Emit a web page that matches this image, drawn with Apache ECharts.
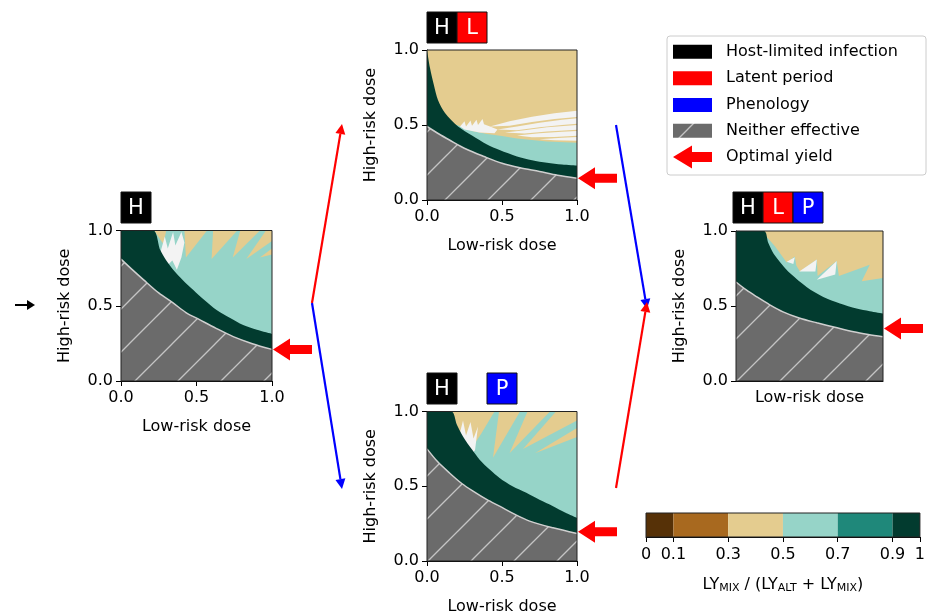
<!DOCTYPE html>
<html>
<head>
<meta charset="utf-8">
<script src="https://cdn.jsdelivr.net/npm/echarts@6/dist/echarts.min.js"></script>
<style>
  html, body { margin: 0; padding: 0; background: #fff; }
  #main { width: 928px; height: 616px; }
</style>
</head>
<body>
<div id="main"></div>
<script>
// ---- data (dose fractions, 0..1) ----
const doseTicks = [0, 0.5, 1]

// panel H
const hGray = [[0,0.81],[0.08,0.735],[0.15,0.672],[0.25,0.585],[0.347,0.517],[0.43,0.455],[0.523,0.406],[0.63,0.35],[0.743,0.295],[0.87,0.248],[1,0.21]]
const hGreen = [[0,1],[0.211,1],[0.26,0.87],[0.30,0.80],[0.347,0.738],[0.41,0.67],[0.479,0.605],[0.55,0.54],[0.633,0.472],[0.72,0.42],[0.809,0.372],[0.9,0.34],[1,0.313]]
const hTeal = [[0,1],[1,1]]
const hTan = [
  [[0.22,1],[0.30,1],[0.28,0.91]],
  [[0.42,1],[0.57,1],[0.43,0.82]],
  [[0.61,1],[0.77,1],[0.60,0.81]],
  [[0.79,1],[0.92,1],[0.74,0.82]],
  [[0.96,1],[1,1],[1,0.93],[0.83,0.81]],
  [[1,0.88],[1,0.84],[0.92,0.82]]
]
const hWhite = [
  [[0.26,0.85],[0.29,0.96],[0.31,0.88],[0.345,0.99],[0.36,0.9],[0.40,0.99],[0.42,0.92],[0.40,0.82],[0.37,0.74],[0.34,0.8],[0.31,0.77],[0.28,0.8]]
]
const hOptimal = 0.21

// panel H + L
const hlGray = [[0,0.49],[0.08,0.44],[0.15,0.40],[0.26,0.34],[0.38,0.29],[0.5,0.245],[0.62,0.215],[0.75,0.19],[0.87,0.165],[1,0.145]]
const hlGreen = [[0,1],[0.02,0.88],[0.045,0.77],[0.073,0.667],[0.12,0.58],[0.207,0.49],[0.3,0.43],[0.4,0.37],[0.484,0.333],[0.6,0.29],[0.7,0.265],[0.8,0.248],[0.9,0.236],[1,0.229]]
const hlTeal = [[0,0.5],[0.2,0.5],[0.3,0.46],[0.4,0.44],[0.5,0.427],[0.6,0.41],[0.8,0.39],[1,0.382]]
const hlTan = []
const hlWhite = [
  [[0.22,0.49],[0.25,0.525],[0.26,0.49],[0.29,0.53],[0.30,0.495],[0.33,0.535],[0.34,0.50],[0.37,0.54],[0.38,0.505],[0.42,0.49],[0.47,0.47],[0.45,0.445],[0.35,0.45],[0.25,0.47]],
  [[0.42,0.49],[0.55,0.525],[0.7,0.555],[0.85,0.578],[1,0.595],[1,0.553],[0.85,0.54],[0.7,0.52],[0.55,0.495]],
  [[0.47,0.47],[0.6,0.49],[0.75,0.515],[0.9,0.535],[1,0.545],[1,0.508],[0.9,0.5],[0.75,0.485],[0.6,0.465]],
  [[0.52,0.45],[0.65,0.465],[0.8,0.485],[1,0.5],[1,0.468],[0.8,0.456],[0.65,0.443]],
  [[0.6,0.43],[0.75,0.445],[0.9,0.455],[1,0.46],[1,0.428],[0.85,0.42],[0.7,0.418]],
  [[0.75,0.405],[0.9,0.415],[1,0.42],[1,0.395],[0.85,0.398]]
]
const hlOptimal = 0.145

// panel H + P
const hpGray = [[0,0.75],[0.07,0.665],[0.15,0.589],[0.23,0.52],[0.307,0.467],[0.4,0.41],[0.484,0.367],[0.58,0.315],[0.684,0.267],[0.84,0.222],[1,0.184]]
const hpGreen = [[0,1],[0.162,1],[0.2,0.91],[0.24,0.833],[0.3,0.745],[0.351,0.678],[0.42,0.61],[0.484,0.556],[0.57,0.5],[0.662,0.456],[0.75,0.41],[0.84,0.367],[0.92,0.325],[1,0.289]]
const hpTeal = [[0,1],[1,1]]
const hpTan = [
  [[0.17,1],[0.45,1],[0.36,0.85],[0.30,0.76],[0.26,0.72],[0.23,0.8],[0.2,0.9]],
  [[0.48,1],[0.62,1],[0.44,0.69]],
  [[0.67,1],[0.82,1],[0.55,0.72]],
  [[0.86,1],[1,1],[1,0.94],[0.64,0.75]],
  [[1,0.89],[1,0.83],[0.72,0.72]]
]
const hpWhite = [
  [[0.22,0.86],[0.24,0.94],[0.26,0.84],[0.29,0.93],[0.31,0.82],[0.34,0.9],[0.32,0.74],[0.3,0.72],[0.27,0.72],[0.24,0.76]]
]
const hpOptimal = 0.196

// panel H + L + P
const hlpGray = [[0,0.66],[0.07,0.607],[0.142,0.561],[0.23,0.508],[0.32,0.461],[0.43,0.42],[0.55,0.388],[0.68,0.356],[0.8,0.328],[0.9,0.31],[1,0.295]]
const hlpGreen = [[0,1],[0.19,1],[0.22,0.92],[0.255,0.85],[0.31,0.78],[0.37,0.716],[0.48,0.627],[0.594,0.56],[0.707,0.517],[0.82,0.483],[0.91,0.465],[1,0.45]]
const hlpTeal = [[0,1],[0.2,0.97],[0.265,0.898],[0.345,0.79],[0.40,0.83],[0.41,0.77],[0.435,0.73],[0.55,0.81],[0.555,0.70],[0.685,0.80],[0.70,0.70],[0.855,0.755],[0.91,0.775],[0.855,0.665],[1,0.687]]
const hlpTan = []
const hlpWhite = [
  [[0.345,0.795],[0.40,0.825],[0.39,0.78]],
  [[0.43,0.73],[0.55,0.81],[0.54,0.73]],
  [[0.55,0.675],[0.685,0.80],[0.675,0.71]]
]
const hlpOptimal = 0.35

// colour bar
const cbEdges = [0, 0.1, 0.3, 0.5, 0.7, 0.9, 1]
const legendLabels = ['Host-limited infection', 'Latent period', 'Phenology', 'Neither effective', 'Optimal yield']

// ---- styles ----
const FONT = 'DejaVu Sans'
const TAN = '#e4cc8f', TEAL = '#96d4c8', GREEN = '#023b2f', WHITE = '#f3f3f3'
const GRAY = '#6b6b6b', HATCH = '#c4c4c4', RED = '#ff0000', BLUE = '#0000ff'
const cbColors = ['#563107', '#a8691f', '#e4cc8f', '#96d4c8', '#1f887a', '#023b2f']

function makeHatch() {
  const s = 43
  const c = document.createElement('canvas')
  c.width = s
  c.height = s
  const g = c.getContext('2d')
  g.fillStyle = GRAY
  g.fillRect(0, 0, s, s)
  g.strokeStyle = HATCH
  g.lineWidth = 1.3
  for (const o of [-s, 0, s]) {
    g.beginPath()
    g.moveTo(o - 1, s + 1)
    g.lineTo(o + s + 1, -1)
    g.stroke()
  }
  return c
}
const hatch = { image: makeHatch(), repeat: 'repeat' }

const panels = [
  { grid: { left: 121, top: 230.5, width: 151, height: 150.5 }, gray: hGray, green: hGreen, teal: hTeal, tan: hTan, white: hWhite, opt: hOptimal, xLabels: true },
  { grid: { left: 427, top: 50, width: 150, height: 150 }, gray: hlGray, green: hlGreen, teal: hlTeal, tan: hlTan, white: hlWhite, opt: hlOptimal, xLabels: true },
  { grid: { left: 427, top: 411.5, width: 150, height: 150 }, gray: hpGray, green: hpGreen, teal: hpTeal, tan: hpTan, white: hpWhite, opt: hpOptimal, xLabels: true },
  { grid: { left: 736, top: 231, width: 147, height: 150 }, gray: hlpGray, green: hlpGreen, teal: hlpTeal, tan: hlpTan, white: hlpWhite, opt: hlpOptimal, xLabels: false }
]

const grids = panels.map(p => p.grid).concat([{ left: 646, top: 513, width: 277, height: 24 }])
const xAxes = []
const yAxes = []
const series = []

function areaLine(i, data, fill, z, smooth, line) {
  return {
    type: 'line', xAxisIndex: i, yAxisIndex: i, data: data, symbol: 'none', smooth: smooth, z: z,
    silent: true,
    lineStyle: line || { width: 0, opacity: 0 },
    areaStyle: { color: fill, opacity: 1 }
  }
}

function polys(i, list, fill, z) {
  return {
    type: 'custom', xAxisIndex: i, yAxisIndex: i, z: z, silent: true,
    data: list.map((p, k) => [p[0][0], p[0][1], k]),
    renderItem: (params, api) => ({
      type: 'polygon',
      shape: { points: list[params.dataIndex].map(pt => api.coord(pt)) },
      style: { fill: fill }
    })
  }
}

function frame(i, z, color) {
  return {
    type: 'custom', xAxisIndex: i, yAxisIndex: i, z: z, silent: true,
    data: [[0, 0]],
    renderItem: (params, api) => {
      const a = api.coord([0, 1])
      const b = api.coord([1, 0])
      return {
        type: 'rect',
        shape: { x: a[0], y: a[1], width: b[0] - a[0], height: b[1] - a[1] },
        style: { fill: 'none', stroke: color, lineWidth: 1 }
      }
    }
  }
}

panels.forEach((p, i) => {
  xAxes.push({
    gridIndex: i, type: 'value', min: 0, max: 1, interval: 0.5,
    splitLine: { show: false },
    axisLine: { show: true, lineStyle: { color: '#000' } },
    axisTick: { show: p.xLabels, length: 5, lineStyle: { color: '#000' } },
    axisLabel: { show: p.xLabels, margin: 9, fontSize: 16, color: '#000', fontFamily: FONT, formatter: v => v.toFixed(1) },
    name: 'Low-risk dose', nameLocation: 'middle', nameGap: p.xLabels ? 38 : 9,
    nameTextStyle: { fontSize: 16, color: '#000', fontFamily: FONT, verticalAlign: 'top' }
  })
  yAxes.push({
    gridIndex: i, type: 'value', min: 0, max: 1, interval: 0.5,
    splitLine: { show: false },
    axisLine: { show: true, lineStyle: { color: '#000' } },
    axisTick: { show: true, length: 5, lineStyle: { color: '#000' } },
    axisLabel: { margin: 8, fontSize: 16, color: '#000', fontFamily: FONT, formatter: v => v.toFixed(1) },
    name: 'High-risk dose', nameLocation: 'middle', nameGap: 48,
    nameTextStyle: { fontSize: 16, color: '#000', fontFamily: FONT }
  })

  series.push(areaLine(i, [[0, 1], [1, 1]], TAN, 1, false))
  series.push(areaLine(i, p.teal, TEAL, 2, false))
  series.push(polys(i, p.tan, TAN, 3))
  series.push(polys(i, p.white, WHITE, 4))
  series.push(areaLine(i, p.green, GREEN, 5, 0.3))
  series.push(areaLine(i, p.gray, hatch, 6, 0.3, { color: '#cfcfcf', width: 1.5 }))
  series.push(frame(i, 7, '#222'))
  // optimal-yield arrow pointing at the right edge
  series.push({
    type: 'custom', xAxisIndex: i, yAxisIndex: i, z: 8, silent: true,
    data: [[1, p.opt]],
    renderItem: (params, api) => {
      const c = api.coord([api.value(0), api.value(1)])
      const x = c[0] + 1, y = c[1]
      return {
        type: 'polygon',
        shape: { points: [[x, y], [x + 17, y - 11], [x + 17, y - 4.5], [x + 39, y - 4.5], [x + 39, y + 4.5], [x + 17, y + 4.5], [x + 17, y + 11]] },
        style: { fill: RED }
      }
    }
  })
})

// colour bar
const cbi = 4
xAxes.push({
  gridIndex: cbi, type: 'value', min: 0, max: 1,
  splitLine: { show: false },
  axisLine: { show: true, lineStyle: { color: '#000' } },
  axisTick: { show: true, length: 5, customValues: cbEdges, lineStyle: { color: '#000' } },
  axisLabel: { margin: 10, fontSize: 16, color: '#000', fontFamily: FONT, customValues: cbEdges, formatter: v => String(v) },
  name: '{n|LY}{s|MIX}{n| / (LY}{s|ALT}{n| + LY}{s|MIX}{n|)}',
  nameLocation: 'middle', nameGap: 36,
  nameTextStyle: {
    verticalAlign: 'top',
    rich: {
      n: { fontSize: 16, color: '#000', fontFamily: FONT, lineHeight: 20, verticalAlign: 'bottom' },
      s: { fontSize: 11, color: '#000', fontFamily: FONT, lineHeight: 20, verticalAlign: 'bottom', padding: [0, 0, -1, 0] }
    }
  }
})
yAxes.push({ gridIndex: cbi, type: 'value', min: 0, max: 1, show: false })
series.push({
  type: 'custom', xAxisIndex: cbi, yAxisIndex: cbi, z: 2, silent: true,
  data: cbEdges.slice(0, -1).map((e, k) => [e, cbEdges[k + 1]]),
  renderItem: (params, api) => {
    const a = api.coord([api.value(0), 1])
    const b = api.coord([api.value(1), 0])
    return {
      type: 'rect',
      shape: { x: a[0], y: a[1], width: b[0] - a[0], height: b[1] - a[1] },
      style: { fill: cbColors[params.dataIndex] }
    }
  }
})
series.push(frame(cbi, 3, '#222'))

// ---- annotations ----
function arrow(x0, y0, x1, y1, color, w, hl, hw) {
  const dx = x1 - x0, dy = y1 - y0
  const len = Math.hypot(dx, dy)
  const ux = dx / len, uy = dy / len
  const bx = x1 - ux * hl, by = y1 - uy * hl
  return [
    { type: 'line', shape: { x1: x0, y1: y0, x2: bx, y2: by }, style: { stroke: color, lineWidth: w } },
    { type: 'polygon', shape: { points: [[x1, y1], [bx - uy * hw, by + ux * hw], [bx + uy * hw, by - ux * hw]] }, style: { fill: color } }
  ]
}

function tag(x, y, letter, color) {
  return {
    type: 'group', x: x, y: y,
    children: [
      { type: 'rect', shape: { x: 0, y: 0, width: 30, height: 31 }, style: { fill: color, stroke: '#111', lineWidth: 1 } },
      { type: 'text', x: 15, y: 16.5, style: { text: letter, fill: '#fff', font: '21px "DejaVu Sans"', align: 'center', verticalAlign: 'middle' } }
    ]
  }
}

const graphic = []
graphic.push(...arrow(15, 305, 35, 305, '#000', 2, 8, 5))
graphic.push(...arrow(312, 303, 342, 124, RED, 2.2, 10, 5))
graphic.push(...arrow(312, 303, 342, 489, BLUE, 2.2, 10, 5))
graphic.push(...arrow(616, 125, 647, 309, BLUE, 2.2, 10, 5))
graphic.push(...arrow(616, 488, 647, 302, RED, 2.2, 10, 5))

graphic.push(tag(121, 192, 'H', '#000'))
graphic.push(tag(427, 12, 'H', '#000'), tag(457, 12, 'L', RED))
graphic.push(tag(427, 373, 'H', '#000'), tag(487, 373, 'P', BLUE))
graphic.push(tag(733, 192, 'H', '#000'), tag(763, 192, 'L', RED), tag(793, 192, 'P', BLUE))

// legend
const legendRows = [51.7, 78.3, 105, 130.7, 157]
graphic.push({ type: 'rect', shape: { x: 667, y: 36, width: 259, height: 139, r: 3 }, style: { fill: '#fff', stroke: '#cccccc', lineWidth: 1 } })
const swatchFills = ['#000', RED, BLUE, hatch]
swatchFills.forEach((f, k) => {
  graphic.push({ type: 'rect', shape: { x: 673, y: legendRows[k] - 7, width: 39, height: 14 }, style: { fill: f } })
})
{
  const y = legendRows[4]
  graphic.push({ type: 'polygon', shape: { points: [[673, y], [692, y - 11.5], [692, y - 5], [712, y - 5], [712, y + 5], [692, y + 5], [692, y + 11.5]] }, style: { fill: RED } })
}
legendLabels.forEach((t, k) => {
  graphic.push({ type: 'text', x: 726, y: legendRows[k], style: { text: t, fill: '#000', font: '16px "DejaVu Sans"', verticalAlign: 'middle' } })
})

const chart = echarts.init(document.getElementById('main'), null, { renderer: 'canvas' })
chart.setOption({
  animation: false,
  backgroundColor: '#fff',
  textStyle: { fontFamily: FONT },
  grid: grids,
  xAxis: xAxes,
  yAxis: yAxes,
  series: series,
  graphic: graphic
})
</script>
</body>
</html>
